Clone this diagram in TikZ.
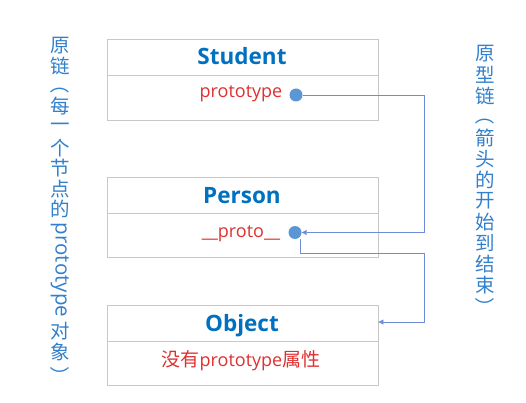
\documentclass[tikz,border=0pt]{standalone}
\usepackage{fontspec}
\setmainfont{Open Sans}
\newfontfamily\cjk{Noto Sans CJK SC}
\usetikzlibrary{arrows.meta}
\definecolor{titleblue}{RGB}{0,112,192}
\definecolor{attrred}{RGB}{222,48,48}
\definecolor{boxgray}{RGB}{200,200,200}
\definecolor{linkblue}{RGB}{110,140,215}
\definecolor{dotblue}{RGB}{91,150,213}
\definecolor{vblue}{RGB}{50,128,205}
\tikzset{
  classbox/.style={draw=boxgray, line width=0.9pt, minimum width=271pt, minimum height=80.5pt, inner sep=0pt},
  divider/.style={draw=boxgray, line width=0.9pt},
  classtitle/.style={text=titleblue, font=\fontsize{22.5}{26}\selectfont\bfseries, inner sep=0pt, anchor=base},
  attr/.style={text=attrred, font=\fontsize{18}{21}\selectfont, inner sep=0pt, anchor=base},
  dot/.style={circle, fill=dotblue, minimum size=13pt, inner sep=0pt},
  conn/.style={draw=linkblue, line width=0.8pt},
  tip/.style={-{Triangle[length=5pt,width=5pt]}},
  vch/.style={text=vblue, font=\cjk\fontsize{19.5}{21}\selectfont, inner sep=0pt},
  vpar/.style={vch, rotate=-90},
  vlat/.style={text=vblue, font=\fontsize{20.5}{23}\selectfont, inner sep=0pt, rotate=-90},
}
\begin{document}
\begin{tikzpicture}[x=1pt,y=-1pt]
\useasboundingbox (0,0) rectangle (526,403);
% boxes
\node[classbox] (S) at (242.5,80) {};
\node[classbox] (P) at (242.5,217.5) {};
\node[classbox] (O) at (242.5,345.5) {};
\draw[divider] ([yshift=4.5pt]S.west) -- ([yshift=4.5pt]S.east);
\draw[divider] ([yshift=4.5pt]P.west) -- ([yshift=4.5pt]P.east);
\draw[divider] ([yshift=4.5pt]O.west) -- ([yshift=4.5pt]O.east);
% titles
\node[classtitle] (St) at (242,65) {Student};
\node[classtitle] (Pt) at (242,203) {Person};
\node[classtitle] (Ot) at (242,331) {Object};
% attributes
\node[attr] (Sa) at (241,98) {prototype};
\node[attr] (Pa) at (241,237) {\_\_proto\_\_};
\node[attr] (Oa) at (241,366) {{\cjk\fontsize{19}{21}\selectfont 没有}prototype{\cjk\fontsize{19}{21}\selectfont 属性}};
% dots
\node[dot] (d1) at (296,95) {};
\node[dot] (d2) at (295,232.5) {};
% connectors
\coordinate (r1) at (424,95);
\draw[conn, tip] (d1.east) -- (r1) |- (d2.east);
\coordinate (r2) at (424,253);
\draw[conn, tip] ([xshift=5pt]d2.south) |- (r2) |- ([yshift=23.5pt]O.east);
% left vertical text
\node[vch] (l1) at (60,46) {原};
\node[vch] (l2) at (60,66.4) {链};
\node[vpar] (l3) at (60,84) {（};
\node[vch] (l4) at (60,106) {每};
\node[vch] (l5) at (60,127) {一};
\node[vch] (l6) at (60,148) {个};
\node[vch] (l7) at (60,168.4) {节};
\node[vch] (l8) at (60,188.8) {点};
\node[vch] (l9) at (60,209.2) {的};
\node[vlat] (l10) at (60,270) {prototype};
\node[vch] (l11) at (60,331) {对};
\node[vch] (l12) at (60,352) {象};
\node[vpar] (l13) at (60,376) {）};
% right vertical text
\node[vch] (r01) at (485,54) {原};
\node[vch] (r02) at (485,75) {型};
\node[vch] (r03) at (485,96) {链};
\node[vpar] (r04) at (485,115) {（};
\node[vch] (r05) at (485,138) {箭};
\node[vch] (r06) at (485,159) {头};
\node[vch] (r07) at (485,180) {的};
\node[vch] (r08) at (485,201) {开};
\node[vch] (r09) at (485,222) {始};
\node[vch] (r10) at (485,243) {到};
\node[vch] (r11) at (485,264) {结};
\node[vch] (r12) at (485,285) {束};
\node[vpar] (r13) at (485,307) {）};
\end{tikzpicture}
\end{document}
